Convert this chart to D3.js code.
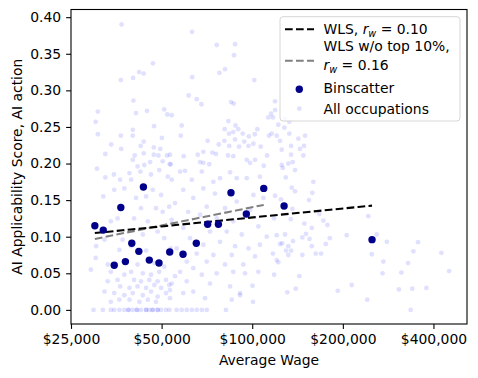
<!DOCTYPE html>
<html lang="en">
<head>
<meta charset="UTF-8">
<title>AI applicability vs wage</title>
<style>
    body { margin: 0; background: white; }
    svg text { font-family: "DejaVu Sans", sans-serif; }
</style>
</head>
<body>
<script src="https://cdn.jsdelivr.net/npm/d3@7"></script>
<script>

// all occupations: average wage ($ thousands) and AI applicability score
var occWage = [
    36.8,46.8,42.1,43.6,40.2,36.6,40.3,30.7,41.1,44.7,51.0,52.2,30.2,47.2,40.1,30.7,36.6,40.1,50.1,43.6,
    34.0,42.6,36.7,47.1,49.5,32.5,43.6,47.1,48.8,52.1,40.7,40.1,45.8,50.4,43.8,41.6,30.5,53.2,
    63.1,76.2,87.7,87.0,81.2,77.8,63.2,101.6,61.5,65.4,67.8,85.0,86.8,54.0,83.3,113.1,58.3,88.0,81.0,89.9,
    104.0,57.9,83.7,86.5,93.0,97.4,102.0,113.7,71.1,80.8,87.7,94.1,77.4,83.9,90.4,97.2,100.9,106.7,53.3,59.2,
    65.9,68.8,73.7,75.8,83.1,86.5,112.0,67.1,68.8,72.0,95.9,102.2,98.3,109.2,53.6,
    119.1,115.5,117.1,128.5,132.8,122.1,127.9,116.0,120.6,142.3,149.8,132.8,123.7,134.6,148.6,144.0,125.3,134.6,147.8,131.8,
    136.3,125.3,119.1,
    126.3,138.7,129.2,159.6,135.3,138.7,158.4,119.1,124.6,154.4,135.9,167.1,118.2,134.3,149.0,172.3,177.7,157.7,150.9,120.6,
    128.5,146.7,155.0,181.0,206.0,123.7,125.8,136.6,131.8,157.7,175.5,129.5,134.6,117.1,131.8,146.7,162.6,169.3,120.6,122.1,
    118.2,143.4,214.0,139.5,130.8,192.4,241.0,
    272.6,280.0,259.0,243.0,249.5,271.0,355.5,343.0,329.5,313.0,307.0,340.0,379.0,336.0,425.0,451.0,100.6,100.2,91.1,
    32.5,34.7,36.4,39.1,42.5,46.1,49.1,52.4,39.6,34.8,32.0,37.6,46.7,49.8,41.1,44.4,47.9,50.4,53.0,35.7,
    42.7,45.0,40.5,33.9,48.5,43.3,32.3,37.1,51.0,30.3,36.2,39.6,44.4,53.6,41.6,47.3,51.0,29.1,33.1,33.9,
    37.6,39.6,43.3,46.1,49.1,35.7,33.1,40.5,42.7,45.5,48.5,51.7,36.4,39.1,41.6,44.4,47.3,49.8,53.0,32.3,
    34.8,37.6,40.1,43.3,46.1,48.5,51.7,36.2,39.1,42.2,45.0,47.9,33.9,30.2,
    29.7,31.9,33.9,34.8,36.2,37.6,38.8,40.1,41.4,42.7,44.4,45.5,46.7,48.5,49.8,51.7,53.1,56.1,58.3,60.6,
    63.0,65.4,68.0,70.6,81.8,38.8,41.4,44.4,46.7,48.5,
    57.6,59.8,68.0,84.4,88.8,106.0,63.0,74.3,78.2,95.9,54.0,59.0,68.8,75.2,100.9,108.9,63.7,55.4,88.8,70.6,
    81.2,98.3,61.3,67.1,54.0,76.2,86.5,104.8,59.0,72.4,82.3,92.3,111.7,62.1,68.8,78.2,87.7,97.2,106.0,56.1,
    65.4,74.3,85.5,102.2,60.6,70.6,81.2,93.4,94.6,104.8,63.7,57.6,68.0,76.2,86.5,60.6,72.4,54.0,84.4,63.7,
    59.0,91.1,69.7,85.5,53.3,53.3,55.4
];
var occScore = [
    .390,.337,.325,.323,.317,.314,.286,.271,.269,.272,.274,.267,.257,.251,.246,.240,.238,.238,.235,.230,
    .226,.224,.220,.222,.220,.213,.214,.212,.211,.211,.211,.205,.202,.203,.198,.196,.193,.199,
    .380,.362,.363,.348,.329,.324,.318,.314,.293,.288,.281,.284,.282,.266,.258,.263,.252,.252,.247,.247,
    .247,.238,.241,.243,.241,.237,.240,.238,.231,.231,.233,.230,.226,.224,.223,.224,.227,.223,.212,.210,
    .212,.216,.215,.213,.211,.210,.211,.202,.201,.199,.205,.205,.201,.197,.199,
    .273,.268,.263,.261,.257,.253,.249,.241,.238,.234,.238,.241,.231,.224,.224,.220,.219,.212,.211,.200,
    .202,.198,.285,
    .194,.191,.181,.175,.167,.162,.160,.156,.151,.150,.138,.131,.125,.124,.118,.122,.116,.112,.104,.102,
    .103,.099,.097,.098,.102,.090,.091,.094,.087,.087,.090,.081,.081,.077,.075,.075,.077,.077,.068,.065,
    .048,.046,.034,.029,.024,.026,.014,
    .066,.093,.103,.128,.076,.050,.0925,.080,.064,.051,.028,.029,.030,.000,.078,.053,.011,.033,.023,
    .181,.185,.178,.187,.189,.185,.191,.182,.178,.164,.155,.166,.164,.157,.153,.155,.139,.134,.141,.125,
    .139,.121,.125,.121,.107,.103,.096,.096,.098,.087,.082,.087,.081,.084,.062,.064,.059,.055,.062,.052,
    .048,.052,.050,.048,.052,.041,.039,.041,.039,.041,.039,.041,.032,.030,.032,.030,.034,.030,.034,.025,
    .023,.020,.023,.020,.025,.018,.023,.014,.014,.011,.014,.011,.011,.071,
    0,0,0,0,0,0,0,0,0,0,0,0,0,0,0,0,0,0,0,0,
    0,0,0,0,0,0,0,0,0,0,
    .189,.190,.189,.188,.180,.182,.178,.175,.180,.180,.178,.164,.166,.159,.157,.153,.153,.146,.148,.141,
    .139,.137,.134,.130,.123,.125,.121,.114,.112,.107,.107,.103,.100,.098,.089,.093,.087,.084,.089,.084,
    .077,.075,.075,.073,.066,.066,.062,.062,.050,.052,.057,.052,.048,.050,.052,.039,.036,.036,.032,.025,
    .023,.020,.016,.014,.016,.027,.046
];

// binscatter points
var binWage = [30.0,32.0,36.6,43.5,34.8,37.9,39.8,42.0,45.5,49.0,53.2,58.9,65.2,71.1,77.2,85.0,95.6,109.2,127.6,250.0];
var binScore = [.115,.109,.140,.168,.061,.066,.091,.080,.068,.064,.079,.076,.091,.117,.117,.160,.131,.166,.142,.096];

// WLS fits: score = a + b * log10(wage)
var wlsCoef = [-0.0772, 0.0407];
var wlsTrimCoef = [-0.2742, 0.0829];
var wlsTrimMax = 109.2;

var xTicks = [25000, 50000, 100000, 200000, 400000];
var yTicks = [0, 0.05, 0.10, 0.15, 0.20, 0.25, 0.30, 0.35, 0.40];

var width = 478, height = 378;
var pL = 71, pR = 467, pT = 9.5, pB = 324;
var fs = "13.9px";

var x = d3.scaleLog().domain([25000, 517000]).range([pL, pR]);
var y = d3.scaleLinear().domain([-0.0193, 0.4105]).range([pB, pT]);

var svg = d3.select("body").append("svg")
    .attr("width", width)
    .attr("height", height);

// all occupations
svg.append("g").selectAll("circle")
    .data(occWage).enter().append("circle")
    .attr("cx", function(d){ return x(d * 1000); })
    .attr("cy", function(d, i){ return y(occScore[i]); })
    .attr("r", 2.4)
    .style("fill", "#0000ff")
    .style("fill-opacity", 0.12);

// regression lines
function fitLine(coef, lo, hi) {
    var pts = d3.range(0, 21).map(function(k){
        var w = lo * Math.pow(hi / lo, k / 20);
        return [w, coef[0] + coef[1] * Math.log10(w)];
    });
    return d3.line()
        .x(function(d){ return x(d[0]); })
        .y(function(d){ return y(d[1]); })(pts);
}
var wMin = d3.min(binWage) * 1000, wMax = d3.max(binWage) * 1000;

svg.append("path")
    .attr("d", fitLine(wlsTrimCoef, wMin, wlsTrimMax * 1000))
    .style("fill", "none").style("stroke", "gray")
    .style("stroke-width", 2.08).style("stroke-dasharray", "7.7,3.3");

svg.append("path")
    .attr("d", fitLine(wlsCoef, wMin, wMax))
    .style("fill", "none").style("stroke", "black")
    .style("stroke-width", 2.08).style("stroke-dasharray", "7.7,3.3");

// binscatter
svg.append("g").selectAll("circle")
    .data(binWage).enter().append("circle")
    .attr("cx", function(d){ return x(d * 1000); })
    .attr("cy", function(d, i){ return y(binScore[i]); })
    .attr("r", 3.7)
    .style("fill", "darkblue");

// axes
var xAxis = svg.append("g")
    .attr("transform", "translate(0," + pB + ")")
    .call(d3.axisBottom(x).tickValues(xTicks).tickFormat(d3.format("$,")).tickSize(4.9).tickPadding(5.5));
var yAxis = svg.append("g")
    .attr("transform", "translate(" + pL + ",0)")
    .call(d3.axisLeft(y).tickValues(yTicks).tickFormat(d3.format(".2f")).tickSize(4.9).tickPadding(5));

[xAxis, yAxis].forEach(function(a){
    a.select(".domain").remove();
    a.selectAll("text").style("font-size", fs).style("fill", "black").style("font-family", "DejaVu Sans");
    a.selectAll("line").style("stroke", "black").style("stroke-width", 1.1);
});

svg.append("rect")
    .attr("x", pL).attr("y", pT)
    .attr("width", pR - pL).attr("height", pB - pT)
    .style("fill", "none").style("stroke", "black").style("stroke-width", 1.1);

svg.append("text")
    .attr("x", (pL + pR) / 2).attr("y", 365)
    .attr("text-anchor", "middle").style("font-size", fs)
    .text("Average Wage");

svg.append("text")
    .attr("transform", "translate(22," + ((pT + pB) / 2) + ") rotate(-90)")
    .attr("text-anchor", "middle").style("font-size", fs)
    .text("AI Applicability Score, AI action");

// legend
var lg = svg.append("g");
lg.append("rect")
    .attr("x", 280).attr("y", 16.7).attr("width", 180).attr("height", 104.3)
    .attr("rx", 3)
    .style("fill", "white").style("fill-opacity", 0.8)
    .style("stroke", "#d6d6d6").style("stroke-width", 1);

function rw(sel, val) {
    sel.append("tspan").style("font-style", "italic").text("r");
    sel.append("tspan").style("font-style", "italic").style("font-size", "9.7px").attr("dy", 3).text("w");
    sel.append("tspan").attr("dy", -3).text(" = " + val);
}

lg.append("line").attr("x1", 285).attr("x2", 314).attr("y1", 29.3).attr("y2", 29.3)
    .style("stroke", "black").style("stroke-width", 2.08).style("stroke-dasharray", "7.7,3.3");
var t1 = lg.append("text").attr("x", 323.5).attr("y", 33.5).style("font-size", fs);
t1.append("tspan").text("WLS, ");
rw(t1, "0.10");

lg.append("line").attr("x1", 285).attr("x2", 314).attr("y1", 60.7).attr("y2", 60.7)
    .style("stroke", "gray").style("stroke-width", 2.08).style("stroke-dasharray", "7.7,3.3");
lg.append("text").attr("x", 323.5).attr("y", 51).style("font-size", fs).text("WLS w/o top 10%,");
var t2 = lg.append("text").attr("x", 323.5).attr("y", 69.5).style("font-size", fs);
rw(t2, "0.16");

lg.append("circle").attr("cx", 299.3).attr("cy", 89.3).attr("r", 3.7).style("fill", "darkblue");
lg.append("text").attr("x", 323.5).attr("y", 93).style("font-size", fs).text("Binscatter");

lg.append("circle").attr("cx", 299.3).attr("cy", 108.7).attr("r", 2.4)
    .style("fill", "#0000ff").style("fill-opacity", 0.12);
lg.append("text").attr("x", 323.5).attr("y", 113.5).style("font-size", fs).text("All occupations");

</script>
</body>
</html>
